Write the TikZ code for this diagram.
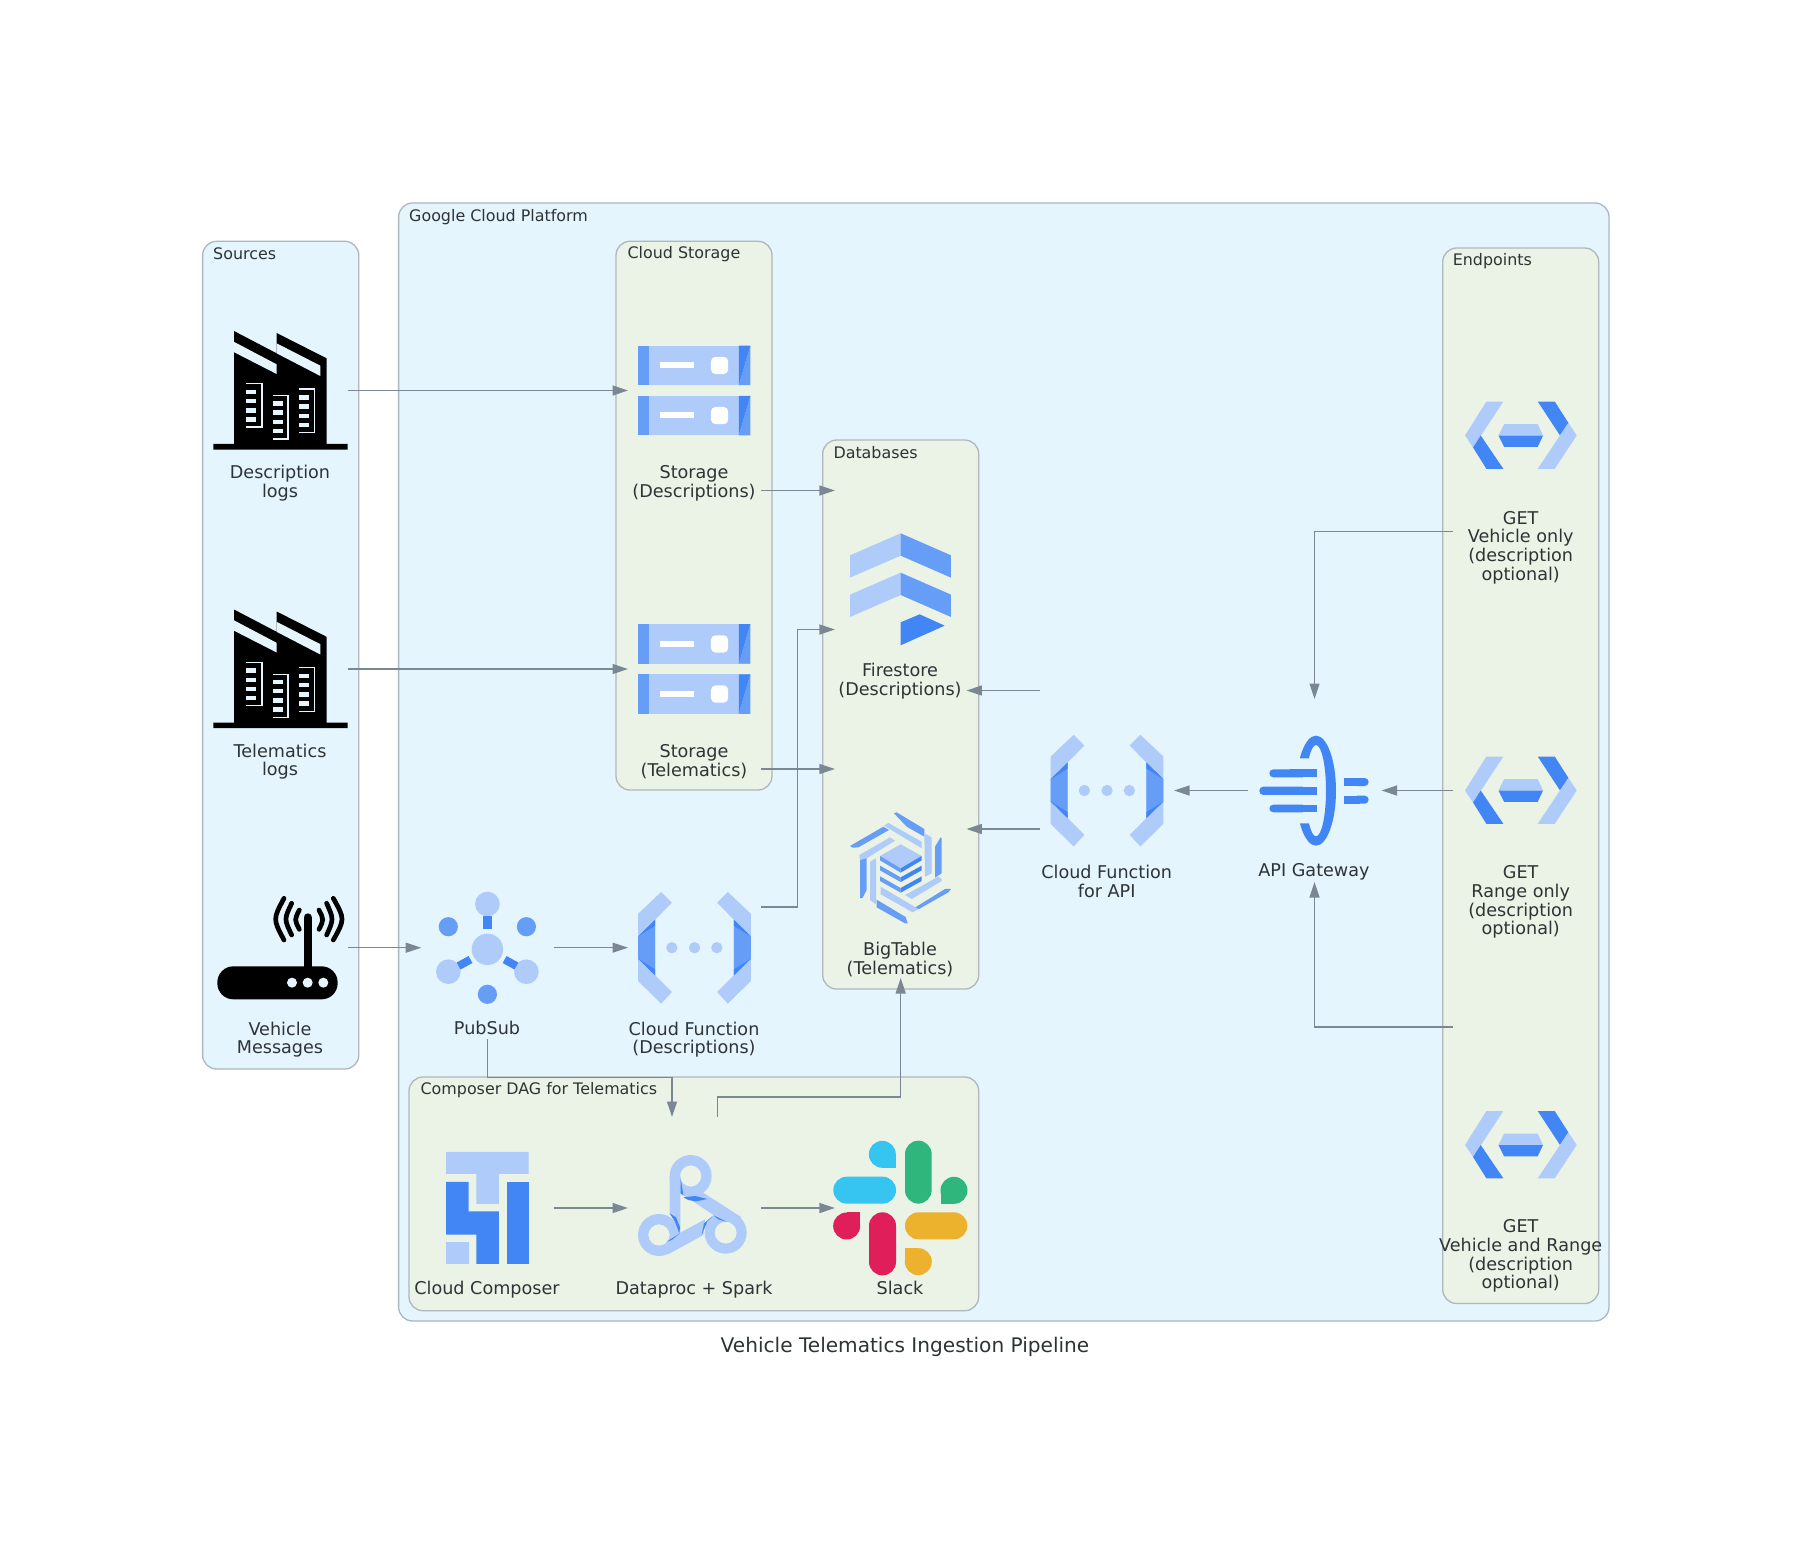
\documentclass[tikz,border=0pt]{standalone}
\usepackage{fontspec}
\setmainfont{DejaVu Sans}
\usetikzlibrary{arrows.meta,calc}
\definecolor{lt}{HTML}{AECBFA}
\definecolor{md}{HTML}{669DF6}
\definecolor{dk}{HTML}{4285F4}
\definecolor{bgblue}{HTML}{E5F5FD}
\definecolor{bggreen}{HTML}{EBF3E7}
\definecolor{frame}{HTML}{AEB6BE}
\definecolor{ink}{HTML}{2D3436}
\definecolor{edgecol}{HTML}{7B8894}
\definecolor{slblue}{HTML}{36C5F0}
\definecolor{slgreen}{HTML}{2EB67D}
\definecolor{slred}{HTML}{E01E5A}
\definecolor{slyellow}{HTML}{ECB22E}
\tikzset{
  grp/.style={draw=frame,line width=1.3pt,rounded corners=14pt},
  grouptitle/.style={anchor=west,inner sep=0pt,text=ink,font=\fontsize{15.9}{19}\selectfont},
  lab/.style={align=center,inner sep=0pt,text=ink,font=\fontsize{17.6}{18.7}\selectfont},
  edge/.style={draw=edgecol,line width=1.3pt,-{Triangle[length=15.5pt,width=10pt]}},
  nodebox/.style={inner sep=0pt,outer sep=0pt,minimum width=133pt,minimum height=200pt},
  iconfactory/.pic={
    \begin{scope}[scale=.3333,shift={(-213,-196.5)}]
      \fill[black] (72,18)--(200,85)--(200,24)--(350,100)--(350,357)--(413,357)--(413,374)--(10,374)--(10,357)--(72,357)--cycle;
      \fill[bgblue] (71,50)--(200,118)--(200,147)--(71,81)--cycle;
      \fill[bgblue] (200,55)--(331,122)--(331,153)--(200,85)--cycle;
      \foreach \yy in {194,222,250,277}{\fill[bgblue] (109,\yy) rectangle (138,\yy+13);}
      \foreach \yy in {229,256,284,311}{\fill[bgblue] (188,\yy) rectangle (218,\yy+13);}
      \foreach \yy in {211,238,266,293}{\fill[bgblue] (267,\yy) rectangle (297,\yy+13);}
      \draw[bgblue,line width=1.3pt] (108,176)--(156,176)--(156,306)--(108,306);
      \draw[bgblue,line width=1.3pt] (188,212)--(234,212)--(234,342)--(188,342);
      \draw[bgblue,line width=1.3pt] (267,192)--(313,192)--(313,323)--(267,323);
    \end{scope}
  },
  iconstorage/.pic={
    \begin{scope}[scale=.3827,shift={(-1318,-524)}]
      \foreach \dy in {0,131}{
        \begin{scope}[shift={(0,\dy)}]
          \fill[lt] (1170,407) rectangle (1464,510);
          \fill[md] (1170,407) rectangle (1200,510);
          \fill[dk] (1434,407)--(1464,407)--(1434,510)--cycle;
          \fill[md] (1464,407)--(1464,510)--(1434,510)--cycle;
          \fill[white] (1228,450) rectangle (1317,466);
          \fill[white,rounded corners=4.5pt] (1361,436) rectangle (1406,481);
        \end{scope}
      }
    \end{scope}
  },
  iconfunction/.pic={
    \begin{scope}[scale=.3333,shift={(-862,-272)}]
      \foreach \s in {1,-1}{
        \begin{scope}[shift={(862,0)},xscale=\s,shift={(-862,0)}]
          \fill[lt] (693,170)--(762,105)--(794,137)--(744,188)--(744,355)--(794,405)--(762,440)--(693,372)--cycle;
          \fill[md] (693,238)--(744,188)--(744,355)--(693,305)--cycle;
          \fill[dk] (693,238)--(744,188)--(744,206)--cycle;
          \fill[dk] (693,305)--(744,355)--(744,337)--cycle;
        \end{scope}
      }
      \foreach \xx in {794,862,929}{\fill[lt] (\xx,272) circle (17);}
    \end{scope}
  },
  iconget/.pic={
    \begin{scope}[scale=.3333,shift={(-242,-168)}]
      \fill[lt] (75,168)--(139,66)--(190,66)--(99,204)--cycle;
      \fill[dk] (122,168)--(190,268)--(139,268)--(99,204)--cycle;
      \fill[dk] (293,66)--(344,66)--(385,130)--(360,168)--cycle;
      \fill[lt] (385,130)--(410,168)--(344,268)--(293,268)--cycle;
      \fill[lt] (192,134)--(293,134)--(309,168)--(175,168)--cycle;
      \fill[dk] (175,168)--(309,168)--(293,202)--(192,202)--cycle;
    \end{scope}
  },
}
\begin{document}
\begin{tikzpicture}[x=1pt,y=-1pt]
\useasboundingbox (0,0) rectangle (1812,1557);
\fill[white] (0,0) rectangle (1812,1557);

% clusters
\draw[grp,fill=bgblue] (202.6,241.3) rectangle (358.8,1069);
\draw[grp,fill=bgblue] (398.6,203) rectangle (1609,1321);
\draw[grp,fill=bggreen] (616,241.3) rectangle (772,790);
\draw[grp,fill=bggreen] (822.7,440) rectangle (978.7,989);
\draw[grp,fill=bggreen] (409,1077) rectangle (978.7,1310.7);
\draw[grp,fill=bggreen] (1442.7,248) rectangle (1598.7,1303.5);

\node[grouptitle] (tsrc) at (213,254.2) {Sources};
\node[grouptitle] (tgcp) at (409,216.8) {Google Cloud Platform};
\node[grouptitle] (tsto) at (627.4,254.2) {Cloud Storage};
\node[grouptitle] (tdb) at (833.3,452.3) {Databases};
\node[grouptitle] (tcmp) at (420.4,1090.2) {Composer DAG for Telematics};
\node[grouptitle] (tend) at (1452.6,260.8) {Endpoints};

% node boxes used by the connectors
\node[nodebox] (logd) at (281,390.5) {};
\node[nodebox] (logt) at (281,669) {};
\node[nodebox,minimum height=182.6pt] (veh) at (281,947.7) {};
\node[nodebox] (stod) at (694.5,390.5) {};
\node[nodebox] (stot) at (694.5,669) {};
\node[nodebox,minimum height=182.6pt] (pub) at (487.7,947.7) {};
\node[nodebox,minimum height=182.6pt] (cfd) at (694.5,947.7) {};
\node[nodebox,minimum width=131.5pt] (fire) at (900.7,590.5) {};
\node[nodebox,minimum width=131.5pt,minimum height=209pt] (big) at (900.7,873.5) {};
\node[nodebox,minimum width=134pt] (cfa) at (1107,790.5) {};
\node[nodebox,minimum width=134pt,minimum height=183pt] (api) at (1314.5,790.5) {};
\node[nodebox,minimum width=136pt,minimum height=191.6pt] (ep1) at (1520.7,435.8) {};
\node[nodebox,minimum width=136pt,minimum height=190pt] (ep2) at (1520.7,790.5) {};
\node[nodebox,minimum width=136pt,minimum height=236pt] (ep3) at (1520.7,1145) {};
\node[nodebox,minimum height=182pt] (cmp) at (487.7,1208) {};
\node[nodebox,minimum height=182pt] (dp) at (694.5,1208) {};
\node[nodebox,minimum width=131.5pt,minimum height=182pt] (sl) at (900.7,1208) {};

% connectors
\draw[edge] (logd.east) -- (stod.west);
\draw[edge] (logt.east) -- (stot.west);
\draw[edge] (veh.east) -- (pub.west);
\draw[edge] (pub.east) -- (cfd.west);
\draw[edge] (stod.south east) -- (fire.north west);
\draw[edge] (stot.south east) -- (big.north west);
\draw[edge] ([yshift=40.7pt]cfd.east) -- ++(36.4,0) |- ([yshift=-39pt]fire.west);
\draw[edge] (cfa.north west) -- (fire.south east);
\draw[edge] ([yshift=-38.5pt]cfa.west) -- ([yshift=44.5pt]big.east);
\draw[edge] (api.west) -- (cfa.east);
\draw[edge] (ep2.west) -- (api.east);
\draw[edge] (ep1.south west) -| (api.north);
\draw[edge] (ep3.north west) -| (api.south);
\draw[edge] (cmp.east) -- (dp.west);
\draw[edge] (dp.east) -- (sl.west);
\draw[edge] (pub.south) |- ($(dp.north)+(-22.5,-39.5)$) -- ([xshift=-22.5pt]dp.north);
\draw[edge] ([xshift=22.9pt]dp.north) -- ++(0,-20) -| (big.south);

% icons
\pic at (281,390.5) {iconfactory};
\pic at (281,669) {iconfactory};
\pic at (694.5,390.5) {iconstorage};
\pic at (694.5,669) {iconstorage};
\pic at (694.5,947.7) {iconfunction};
\pic at (1107,790.5) {iconfunction};
\pic at (1520.7,435.5) {iconget};
\pic at (1520.7,790.5) {iconget};
\pic at (1520.7,1145) {iconget};

% router
\begin{scope}[shift={(210,880)},scale=.3333]
  \fill[black,rounded corners=16pt] (22,259) rectangle (383,358);
  \foreach \xx in {246,293,340}{\fill[bgblue] (\xx,308) circle (15);}
  \draw[black,line width=8pt,line cap=round] (293,112) -- (293,262);
  \begin{scope}[line width=4.7pt,line cap=round,draw=black]
    \draw (222,55) .. controls (188.7,117.5) .. (222,180);
    \draw (245,70) .. controls (222.3,117.5) .. (245,165);
    \draw (268,90) .. controls (253.3,119) .. (268,148);
    \draw (370,55) .. controls (404.7,117.5) .. (370,180);
    \draw (350,70) .. controls (371.3,117.5) .. (350,165);
    \draw (327,90) .. controls (341.7,119) .. (327,148);
  \end{scope}
\end{scope}

% pubsub
\fill[lt] (487.4,949.3) circle (15.7);
\fill[lt] (487.4,904) circle (12.3);
\fill[lt] (448.3,971.7) circle (12.3);
\fill[lt] (526.4,971.7) circle (12.3);
\fill[md] (448.3,926.7) circle (9.6);
\fill[md] (526.4,926.7) circle (9.6);
\fill[md] (487.4,994.3) circle (9.6);
\fill[dk] (482.9,916) rectangle (491.9,929.3);
\draw[dk,line width=8pt] (458.6,966) -- (470.5,959.5);
\draw[dk,line width=8pt] (504.6,959.5) -- (516.4,966);

% firestore
\begin{scope}[shift={(820,430)},scale=.3333]
  \fill[lt] (90,376)--(242,310)--(242,377)--(90,443)--cycle;
  \fill[md] (242,310)--(393,376)--(393,443)--(242,377)--cycle;
  \fill[lt] (90,494)--(242,428)--(242,495)--(90,561)--cycle;
  \fill[md] (242,428)--(393,494)--(393,561)--(242,495)--cycle;
  \fill[dk] (242,577)--(299,553)--(374,587)--(242,646)--cycle;
\end{scope}

% bigtable
\begin{scope}[shift={(840,805)},scale=.3333]
  \fill[md] (162,25)--(170,22)--(253,72)--(253,95)--(200,65)--cycle;
  \fill[md] (30,123)--(130,65)--(147,75)--(55,127)--(38,128)--cycle;
  \fill[md] (60,280)--(60,165)--(80,157)--(80,255)--(68,278)--cycle;
  \fill[md] (110,284)--(197,336)--(203,355)--(195,355)--(110,307)--cycle;
  \fill[md] (218,312)--(315,252)--(333,252)--(325,262)--(237,312)--cycle;
  \fill[md] (302,97)--(305,100)--(305,205)--(285,218)--(285,125)--cycle;
  \fill[lt] (132,62)--(145,54)--(245,110)--(245,130)--cycle;
  \fill[lt] (253,85)--(275,97)--(275,205)--(255,215)--cycle;
  \fill[lt] (195,270)--(295,215)--(305,222)--(305,228)--(215,282)--cycle;
  \fill[lt] (122,245)--(235,312)--(218,322)--(122,268)--cycle;
  \fill[lt] (90,170)--(108,160)--(108,298)--(90,285)--cycle;
  \fill[lt] (58,150)--(150,97)--(165,107)--(80,160)--(60,165)--cycle;
  \fill[lt] (182,118)--(245,153)--(182,190)--(120,153)--cycle;
  \fill[md] (120,153)--(182,190)--(182,203)--(120,166)--cycle;
  \fill[dk] (245,153)--(182,190)--(182,203)--(245,166)--cycle;
  \foreach \yy in {182,214}{
    \fill[md] (120,\yy)--(182,\yy+35)--(182,\yy+49)--(120,\yy+14)--cycle;
    \fill[dk] (245,\yy)--(182,\yy+35)--(182,\yy+49)--(245,\yy+14)--cycle;
  }
\end{scope}

% api gateway
\begin{scope}[shift={(1240,720)},scale=.3333]
  \begin{scope}
    \clip (295,40)--(160,40)--(160,115)--(232,115)--(232,310)--(160,310)--(160,385)--(295,385)--cycle;
    \fill[dk,even odd rule] (228,212) ellipse[x radius=60,y radius=165] (228,212) ellipse[x radius=30,y radius=137];
  \end{scope}
  \foreach \xl/\yt/\yb in {88/148/172,58/200/225,88/254/277}{
    \fill[dk,rounded corners=4pt] (\xl,\yt) rectangle (200,\yb);
    \fill[dk] (150,\yt) rectangle (232,\yb);
  }
  \foreach \yt/\yb in {174/198,227/251}{
    \fill[dk,rounded corners=4pt] (340,\yt) rectangle (386,\yb);
    \fill[dk] (313,\yt) rectangle (360,\yb);
  }
\end{scope}

% cloud composer
\begin{scope}[shift={(190,850)},xscale=.3827,yscale=.3333]
  \fill[lt] (669,906)--(885,906)--(885,972)--(807,972)--(807,1062)--(748,1062)--(748,972)--(669,972)--cycle;
  \fill[dk] (669,996)--(728,996)--(728,1084)--(807,1084)--(807,1242)--(748,1242)--(748,1154)--(669,1154)--cycle;
  \fill[dk] (827,996) rectangle (885,1242);
  \fill[lt] (669,1176) rectangle (728,1242);
\end{scope}

% dataproc
\begin{scope}[shift={(620,1140)},scale=.3333]
  \fill[lt] (149,108)--(181,108)--(181,280)--(165,240)--(149,222)--cycle;
  \fill[lt] (190,165)--(245,155)--(365,232)--(320,245)--(285,228)--cycle;
  \fill[lt] (148,296)--(255,238)--(250,285)--(150,340)--(117,348)--cycle;
  \fill[lt,even odd rule] (212,108) circle (63) (212,108) circle (32);
  \fill[lt,even odd rule] (117,285) circle (63) (117,285) circle (32);
  \fill[lt,even odd rule] (317,278) circle (63) (317,278) circle (33);
  \fill[dk] (190,172)--(225,168)--(262,177)--(228,184)--(205,180)--cycle;
  \fill[dk] (182,115)--(190,165)--(182,160)--cycle;
  \fill[dk] (149,220)--(168,232)--(180,262)--(178,280)--(165,245)--cycle;
  \fill[dk] (140,305)--(180,280)--(155,300)--cycle;
  \fill[dk] (280,226)--(252,250)--(245,285)--(262,245)--cycle;
  \fill[dk] (280,226)--(320,245)--(295,238)--cycle;
\end{scope}

% slack
\begin{scope}[shift={(800,1050)},scale=.3333]
  \fill[slblue] (247,313) circle (40.5);
  \fill[slblue] (247,313) rectangle (288,353);
  \fill[slblue,rounded corners=13.4pt] (100,380) rectangle (288,461);
  \fill[slgreen,rounded corners=13.4pt] (315,272) rectangle (395,461);
  \fill[slgreen] (462,421) circle (40.5);
  \fill[slgreen] (422,421) rectangle (462,461);
  \fill[slred] (140,528) circle (40.5);
  \fill[slred] (140,487) rectangle (181,528);
  \fill[slred,rounded corners=13.4pt] (207,487) rectangle (288,676);
  \fill[slyellow,rounded corners=13.4pt] (315,487) rectangle (502,568);
  \fill[slyellow] (355,635) circle (40.5);
  \fill[slyellow] (315,595) rectangle (355,635);
\end{scope}

% labels
\node[lab] (l1) at (280,483) {Description\\logs};
\node[lab] (l2) at (280,761.7) {Telematics\\logs};
\node[lab] (l3) at (280,1039.5) {Vehicle\\Messages};
\node[lab] (l4) at (694,483) {Storage\\(Descriptions)};
\node[lab] (l5) at (694,761.7) {Storage\\(Telematics)};
\node[lab] (l6) at (487,1028.4) {PubSub};
\node[lab] (l7) at (694,1039.5) {Cloud Function\\(Descriptions)};
\node[lab] (l8) at (900,681) {Firestore\\(Descriptions)};
\node[lab] (l9) at (900,959.2) {BigTable\\(Telematics)};
\node[lab] (l10) at (1106.7,881.5) {Cloud Function\\for API};
\node[lab] (l11) at (1314,871.8) {API Gateway};
\node[lab] (l12) at (1520.7,547.5) {GET\\Vehicle only\\(description\\optional)};
\node[lab] (l13) at (1520.7,902.2) {GET\\Range only\\(description\\optional)};
\node[lab] (l14) at (1520.7,1256) {GET\\Vehicle and Range\\(description\\optional)};
\node[lab] (l15) at (487,1290) {Cloud Composer};
\node[lab] (l16) at (694,1289.5) {Dataproc + Spark};
\node[lab] (l17) at (900,1288) {Slack};
\node[lab,font=\fontsize{20.1}{23}\selectfont] (title) at (905,1346.5) {Vehicle Telematics Ingestion Pipeline};
\end{tikzpicture}
\end{document}
